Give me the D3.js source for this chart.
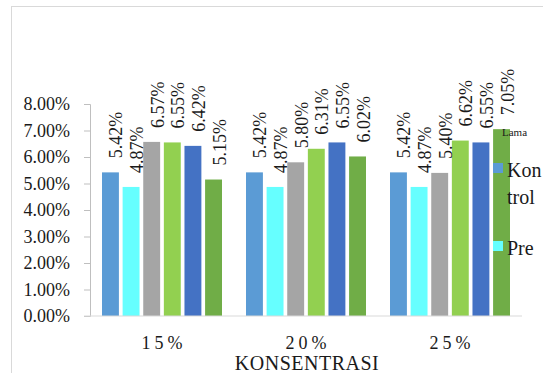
<!DOCTYPE html>
<html>
<head>
<meta charset="utf-8">
<script src="https://cdn.jsdelivr.net/npm/d3@7"></script>
</head>
<body style="margin:0">
<svg id="chart" width="543" height="373" font-family="Liberation Serif"></svg>
<script>
const width = 543
const height = 373
const serif = 'Liberation Serif'
const ink = '#1a1a1a'

// data (percent)
const categories = ['15%', '20%', '25%']
const seriesNames = ['Kontrol', 'Pre', 'Seri 3', 'Seri 4', 'Seri 5', 'Seri 6']
const kontrol = [5.42, 5.42, 5.42]
const pre = [4.87, 4.87, 4.87]
const seri3 = [6.57, 5.80, 5.40]
const seri4 = [6.55, 6.31, 6.62]
const seri5 = [6.42, 6.55, 6.55]
const seri6 = [5.15, 6.02, 7.05]
const yTicks = [0, 1, 2, 3, 4, 5, 6, 7, 8]
const colors = ['#5b9bd5', '#66ffff', '#a5a5a5', '#92d050', '#4472c4', '#70ad47']

const values = [kontrol, pre, seri3, seri4, seri5, seri6]

const svg = d3.select('#chart')

// chart frame
svg.append('rect')
  .attr('x', 11.5).attr('y', 6.5)
  .attr('width', 560).attr('height', 400)
  .attr('fill', 'none')
  .attr('stroke', '#d9d9d9')

const x0 = d3.scaleBand().domain(categories).range([90, 522])
const x1 = d3.scaleBand().domain(d3.range(seriesNames.length))
  .range([12, x0.bandwidth() - 12]).paddingInner(0.18)
const y = d3.scaleLinear().domain([0, 8]).range([316, 104])

// y axis
const yAxis = svg.append('g')
  .attr('transform', 'translate(90,0)')
  .call(d3.axisLeft(y).tickValues(yTicks).tickSize(6).tickPadding(14)
    .tickFormat(d => d.toFixed(2) + '%'))
yAxis.attr('font-family', serif).attr('font-size', 18)
yAxis.select('.domain').attr('stroke', '#bfbfbf')
yAxis.selectAll('.tick line').attr('stroke', '#bfbfbf')
yAxis.selectAll('.tick text').attr('fill', ink)

// bars
const groups = svg.selectAll('g.grp').data(categories).join('g')
  .attr('class', 'grp')
  .attr('transform', d => `translate(${x0(d)},0)`)

groups.each(function (cat, ci) {
  const g = d3.select(this)
  const rows = values.map((s, si) => ({ si, v: s[ci] }))
  g.selectAll('rect').data(rows).join('rect')
    .attr('x', d => x1(d.si))
    .attr('y', d => y(d.v))
    .attr('width', x1.bandwidth())
    .attr('height', d => y(0) - y(d.v))
    .attr('fill', d => colors[d.si])
  g.selectAll('text.lbl').data(rows).join('text')
    .attr('class', 'lbl')
    .attr('transform', d => `translate(${x1(d.si) + x1.bandwidth() / 2 + 12},${y(d.v) - 14}) rotate(-90)`)
    .attr('font-size', 18)
    .attr('fill', ink)
    .text(d => d.v.toFixed(2) + '%')
})

// baseline
svg.append('line')
  .attr('x1', 84).attr('x2', 522)
  .attr('y1', y(0)).attr('y2', y(0))
  .attr('stroke', '#d9d9d9')

// category labels
svg.selectAll('text.cat').data(categories).join('text')
  .attr('class', 'cat')
  .attr('x', d => x0(d) + x0.bandwidth() / 2 + 2)
  .attr('y', 349)
  .attr('text-anchor', 'middle')
  .attr('font-size', 18)
  .attr('fill', ink)
  .attr('letter-spacing', 4)
  .text(d => d)

svg.append('text')
  .attr('x', 307).attr('y', 370)
  .attr('text-anchor', 'middle')
  .attr('font-size', 20)
  .attr('fill', ink)
  .attr('letter-spacing', 0.5)
  .text('KONSENTRASI')

// legend (cut off on the right like the source)
svg.append('text')
  .attr('x', 502).attr('y', 136)
  .attr('font-size', 11)
  .attr('fill', ink)
  .text('Lama')

const legendRows = [
  { si: 0, y: 163, lines: ['Kon', 'trol'] },
  { si: 1, y: 241, lines: ['Pre'] }
]
legendRows.forEach(r => {
  svg.append('rect')
    .attr('x', 493).attr('y', r.y)
    .attr('width', 10).attr('height', 10)
    .attr('fill', colors[r.si])
  r.lines.forEach((t, i) => {
    svg.append('text')
      .attr('x', 507).attr('y', r.y + 14 + i * 27)
      .attr('font-size', 20)
      .attr('fill', ink)
      .text(t)
  })
})
</script>
</body>
</html>
